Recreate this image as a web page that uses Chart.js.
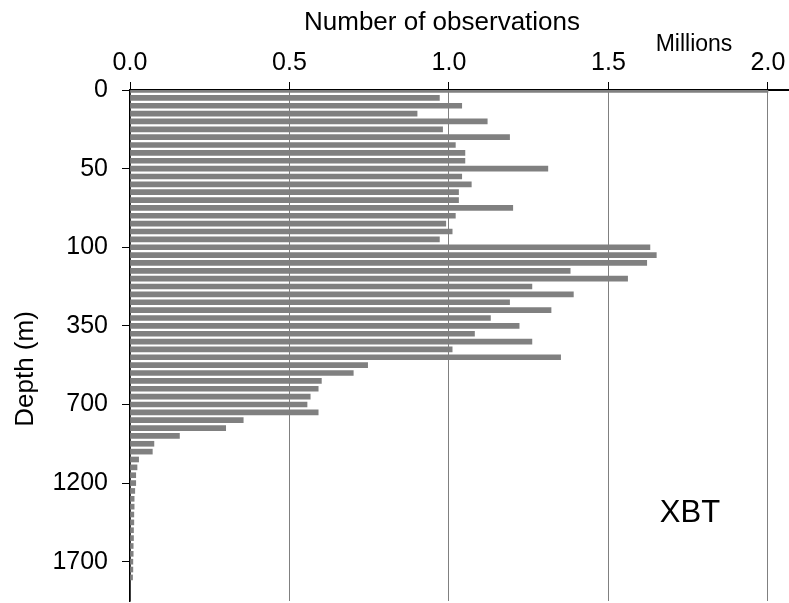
<!DOCTYPE html>
<html>
<head>
<meta charset="utf-8">
<script src="https://cdn.jsdelivr.net/npm/chart.js@4/dist/chart.umd.min.js"></script>
<style>
  html, body { margin: 0; padding: 0; background: #fff; }
  #wrap { width: 789px; height: 603px; position: relative; }
</style>
</head>
<body>
<div id="wrap"><canvas id="xbtChart"></canvas></div>
<script>
// depth levels (m), one per bar; only every 10th is labelled
const depths = [
  0, 5, 10, 15, 20, 25, 30, 35, 40, 45,
  50, 55, 60, 65, 70, 75, 80, 85, 90, 95,
  100, 125, 150, 175, 200, 225, 250, 275, 300, 325,
  350, 385, 420, 455, 490, 525, 560, 595, 630, 665,
  700, 750, 800, 850, 900, 950, 1000, 1050, 1100, 1150,
  1200, 1250, 1300, 1350, 1400, 1450, 1500, 1550, 1600, 1650,
  1700, 1750, 1800, 1850, 1900, 1950
];

// number of XBT observations, millions
const observations = [
  2.00, 0.97, 1.04, 0.90, 1.12, 0.98, 1.19, 1.02, 1.05, 1.05,
  1.31, 1.04, 1.07, 1.03, 1.03, 1.20, 1.02, 0.99, 1.01, 0.97,
  1.63, 1.65, 1.62, 1.38, 1.56, 1.26, 1.39, 1.19, 1.32, 1.13,
  1.22, 1.08, 1.26, 1.01, 1.35, 0.745, 0.70, 0.60, 0.59, 0.565,
  0.555, 0.59, 0.355, 0.30, 0.155, 0.075, 0.07, 0.027, 0.022, 0.018,
  0.018, 0.015, 0.013, 0.013, 0.012, 0.012, 0.011, 0.011, 0.010, 0.010,
  0.009, 0.009, 0.008, null, null, null
];

const xTicks = [0, 0.5, 1.0, 1.5, 2.0];

const FONT = "'Liberation Sans', Arial, sans-serif";

const labelsPlugin = {
  id: 'extraText',
  afterDraw(chart) {
    const c = chart.ctx;
    c.save();
    c.fillStyle = '#000';
    c.textBaseline = 'alphabetic';
    c.textAlign = 'center';
    c.font = '26px ' + FONT;
    c.fillText('Number of observations', 442, 30);
    c.font = '23px ' + FONT;
    c.fillText('Millions', 694, 51);
    c.font = '31px ' + FONT;
    c.fillText('XBT', 690, 522);
    c.translate(33, 369);
    c.rotate(-Math.PI / 2);
    c.font = '26px ' + FONT;
    c.fillText('Depth (m)', 0, 0);
    c.restore();
  }
};

new Chart(document.getElementById('xbtChart'), {
  type: 'bar',
  data: {
    labels: depths,
    datasets: [{
      data: observations,
      backgroundColor: '#808080',
      borderWidth: 0,
      barThickness: 5
    }]
  },
  options: {
    indexAxis: 'y',
    responsive: true,
    maintainAspectRatio: false,
    animation: false,
    layout: { padding: { left: 0, top: 0, right: 0, bottom: 2 } },
    plugins: {
      legend: { display: false },
      tooltip: { enabled: false }
    },
    scales: {
      x: {
        position: 'top',
        min: 0,
        max: 2.066,
        afterFit: s => { s.height = 90; s.paddingLeft = 0; s.paddingRight = 0; },
        afterBuildTicks: s => { s.ticks = xTicks.map(v => ({ value: v })); },
        ticks: {
          includeBounds: false,
          padding: 4,
          color: '#000',
          font: { family: FONT, size: 25 },
          callback: v => Number(v).toFixed(1)
        },
        grid: {
          color: '#808080',
          lineWidth: 1,
          tickColor: '#000',
          tickLength: 8
        },
        border: { color: '#000', width: 2 }
      },
      y: {
        offset: false,
        afterFit: s => { s.width = 130; s.paddingTop = 0; s.paddingBottom = 0; },
        afterBuildTicks: s => { s.ticks = s.ticks.filter(t => t.value % 10 === 0); },
        ticks: {
          autoSkip: false,
          padding: 14,
          color: '#000',
          font: { family: FONT, size: 25 },
          callback: function (v) { return this.getLabelForValue(v); }
        },
        grid: {
          offset: false,
          drawOnChartArea: false,
          tickColor: '#000',
          tickLength: 8
        },
        border: { color: '#000', width: 1.5 }
      }
    }
  },
  plugins: [labelsPlugin]
});
</script>
</body>
</html>
